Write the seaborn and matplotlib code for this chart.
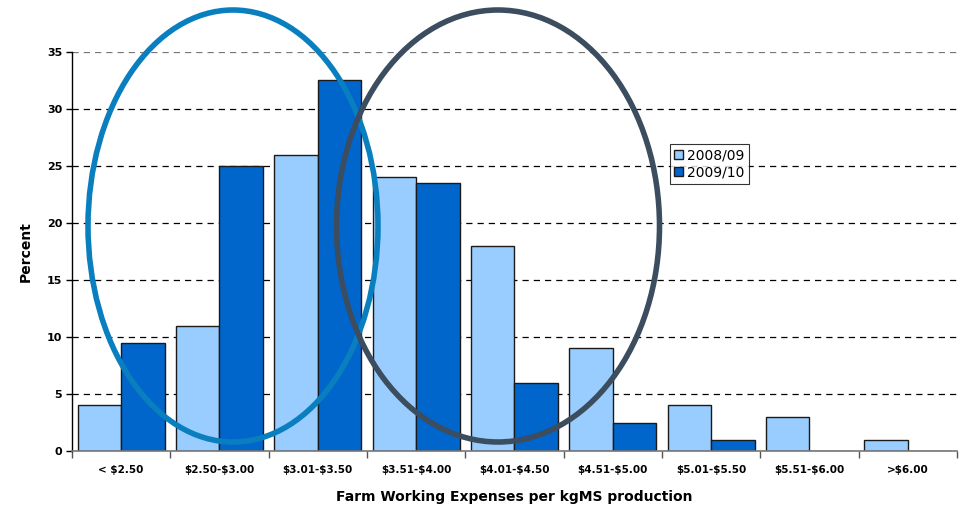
import numpy as np
import pandas as pd
import matplotlib
matplotlib.use("Agg")
import matplotlib.pyplot as plt
from matplotlib.patches import Ellipse
import seaborn as sns

# Cost bands and share of farms (%) in each season
bands = ["< $2.50", "$2.50-$3.00", "$3.01-$3.50", "$3.51-$4.00", "$4.01-$4.50",
         "$4.51-$5.00", "$5.01-$5.50", "$5.51-$6.00", ">$6.00"]
seasons = ["2008/09", "2009/10"]
pct_2008_09 = [4, 11, 26, 24, 18, 9, 4, 3, 1]
pct_2009_10 = [9.5, 25, 32.5, 23.5, 6, 2.5, 1, 0, 0]
y_ticks = [0, 5, 10, 15, 20, 25, 30, 35]

df = pd.DataFrame({
    "band": bands * 2,
    "season": [seasons[0]] * len(bands) + [seasons[1]] * len(bands),
    "pct": pct_2008_09 + pct_2009_10,
})

sns.set_theme(style="white")
plt.rcParams["font.family"] = ["DejaVu Sans"]
plt.rcParams["text.parse_math"] = False
plt.rcParams["text.color"] = "black"
plt.rcParams["axes.labelcolor"] = "black"
plt.rcParams["xtick.color"] = "black"
plt.rcParams["ytick.color"] = "black"

W, H = 962, 508
fig = plt.figure(figsize=(W / 100, H / 100), dpi=100)
ax = fig.add_axes([72 / W, 1 - 451 / H, (957 - 72) / W, (451 - 52) / H])

light, dark = "#99CCFF", "#0066CC"
sns.barplot(data=df, x="band", y="pct", hue="season", order=bands,
            hue_order=seasons, palette=[light, dark], saturation=1,
            width=0.885, edgecolor="#1a1a1a", linewidth=1.0, ax=ax,
            legend=True)

ax.set_xlim(-0.5, len(bands) - 0.5)
ax.set_ylim(0, 35)
ax.set_yticks(y_ticks)
ax.set_yticklabels([str(v) for v in y_ticks], fontsize=8, fontweight="bold")
for v in y_ticks[1:]:
    ax.axhline(v, color="#777777" if v == 35 else "black", lw=0.9,
               dashes=(5, 4), zorder=0)

# Boundary tick marks between bands; labels sit in the band centres
ax.set_xticks(np.arange(-0.5, len(bands), 1.0))
ax.set_xticklabels([])
ax.set_xticks(np.arange(len(bands)), minor=True)
ax.set_xticklabels(bands, minor=True, fontsize=7.5, fontweight="bold")
ax.tick_params(axis="x", which="major", direction="out", length=5,
               color="#555555", width=1, bottom=True)
ax.tick_params(axis="x", which="minor", length=0, pad=10)
ax.tick_params(axis="y", direction="out", length=4, color="black",
               width=1, left=True, pad=3)

for side in ["top", "right"]:
    ax.spines[side].set_visible(False)
ax.spines["left"].set_color("black")
ax.spines["left"].set_linewidth(1)
ax.spines["bottom"].set_color("#777777")
ax.spines["bottom"].set_linewidth(1.2)

ax.set_xlabel("Farm Working Expenses per kgMS production", fontsize=10,
              fontweight="bold", labelpad=11)
ax.set_ylabel("Percent", fontsize=10, fontweight="bold", labelpad=10)

leg = ax.legend(loc="upper left", bbox_to_anchor=(670 / W, 1 - 144 / H),
                bbox_transform=fig.transFigure, fontsize=10, frameon=True,
                fancybox=False, handlelength=0.65, handleheight=0.65,
                handletextpad=0.3, borderpad=0.3, labelspacing=0.25,
                borderaxespad=0)
leg.get_frame().set_edgecolor("black")
leg.get_frame().set_linewidth(0.8)

# Highlight ellipses around the two groups of bands
for cx, cy, ew, eh, col in [(233, 226, 290, 432, "#0A7FBF"),
                            (498, 226, 323, 432, "#3B4D5E")]:
    fig.add_artist(Ellipse((cx / W, 1 - cy / H), ew / W, eh / H,
                           transform=fig.transFigure, fill=False,
                           edgecolor=col, lw=4, zorder=10))

fig.savefig("out.png", dpi=100)
